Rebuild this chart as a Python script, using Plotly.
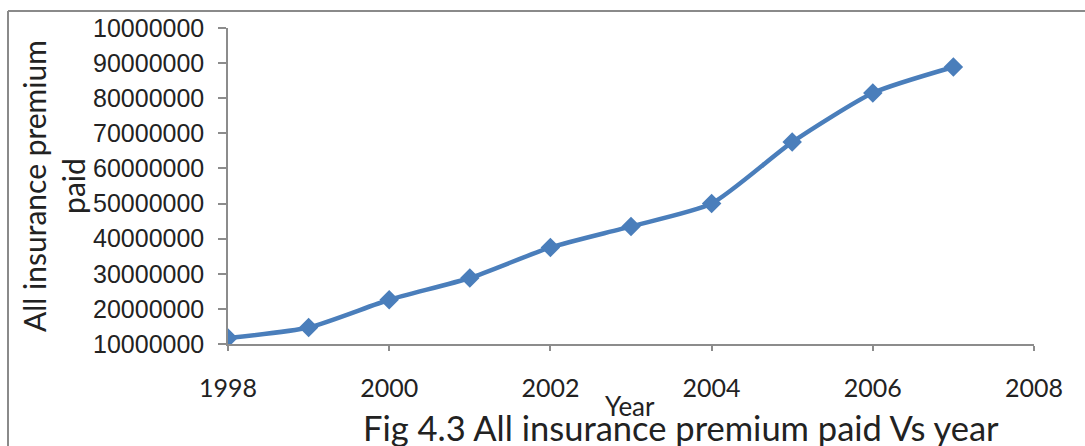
import plotly.graph_objects as go

# Annual totals of all insurance premium paid
years = [1998, 1999, 2000, 2001, 2002, 2003, 2004, 2005, 2006, 2007]
premium_paid = [11700000, 14700000, 22600000, 28800000, 37500000,
                43500000, 50000000, 67500000, 81500000, 88900000]

x_ticks = [1998, 2000, 2002, 2004, 2006, 2008]
y_ticks = [10000000, 20000000, 30000000, 40000000, 50000000,
           60000000, 70000000, 80000000, 90000000, 100000000]
y_tick_labels = ["10000000", "20000000", "30000000", "40000000", "50000000",
                 "60000000", "70000000", "80000000", "90000000", "10000000"]

W, H = 1085, 446
L, R, T, B = 228, 51, 28, 102

BLUE = "#4a7ebb"
AXIS = "#8c8c8c"
TEXT = "#222222"
CAL = "Lato, 'Open Sans', sans-serif"
ARIAL = "'Liberation Sans', Arial, sans-serif"

fig = go.Figure(
    go.Scatter(
        x=years, y=premium_paid, mode="lines+markers",
        line=dict(color=BLUE, width=4.5, shape="spline", smoothing=0.6),
        marker=dict(symbol="diamond", size=15, color=BLUE),
        showlegend=False,
    )
)

pw = W - L - R
ph = H - T - B


def px_x(px):
    return (px - L) / pw


def px_y(py):
    return (H - B - py) / ph


fig.update_layout(
    width=W, height=H, autosize=False,
    margin=dict(l=L, r=R, t=T, b=B, pad=0),
    paper_bgcolor="white", plot_bgcolor="white",
    xaxis=dict(
        range=[1998, 2008], tickvals=x_ticks, ticks="outside", ticklen=5,
        tickwidth=1.5, tickcolor=AXIS, showline=True, linecolor=AXIS,
        linewidth=1.5, showgrid=False, zeroline=False,
        tickfont=dict(family=CAL, size=25, color=TEXT),
        ticklabelstandoff=16,
    ),
    yaxis=dict(
        range=[10000000, 100000000], tickvals=y_ticks, ticktext=y_tick_labels,
        ticks="outside", ticklen=8, tickwidth=1.5, tickcolor=AXIS,
        showline=True, linecolor=AXIS, linewidth=1.5, showgrid=False,
        zeroline=False, tickfont=dict(family=ARIAL, size=25, color=TEXT),
        ticklabelstandoff=9,
    ),
    annotations=[
        dict(text="All insurance premium<br>paid", textangle=-90,
             xref="paper", yref="paper", x=px_x(53), y=0.5,
             xanchor="center", yanchor="middle", showarrow=False,
             font=dict(family=CAL, size=30, color=TEXT)),
        dict(text="Year", xref="paper", yref="paper", x=px_x(630),
             y=px_y(406), xanchor="center", yanchor="middle",
             showarrow=False, font=dict(family=CAL, size=26, color=TEXT)),
        dict(text="Fig 4.3 All insurance premium paid Vs year",
             xref="paper", yref="paper", x=px_x(681), y=px_y(427),
             xanchor="center", yanchor="middle", showarrow=False,
             font=dict(family=CAL, size=34.5, color=TEXT)),
    ],
    shapes=[
        dict(type="line", xref="paper", yref="paper", x0=px_x(8), x1=px_x(W + 5),
             y0=px_y(11), y1=px_y(11), line=dict(color="#8a8a8a", width=2)),
        dict(type="line", xref="paper", yref="paper", x0=px_x(8), x1=px_x(8),
             y0=px_y(11), y1=px_y(H + 5), line=dict(color="#8a8a8a", width=2)),
    ],
)

fig.write_html("out.html")
